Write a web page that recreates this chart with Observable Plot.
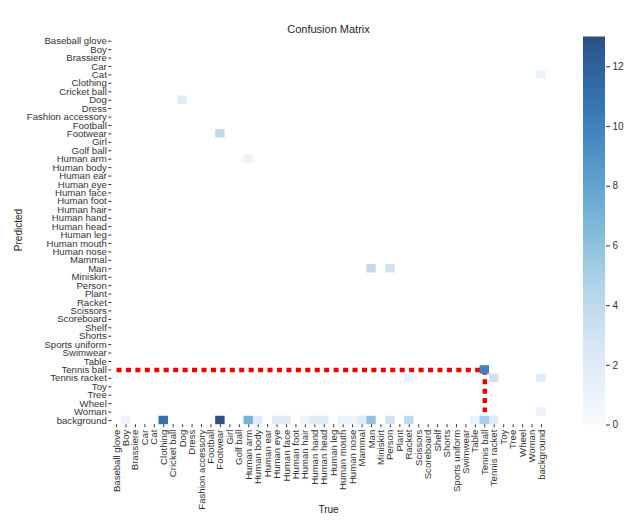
<!DOCTYPE html>
<html><head><meta charset="utf-8">
<script src="https://cdn.jsdelivr.net/npm/d3@7"></script>
<script src="https://cdn.jsdelivr.net/npm/@observablehq/plot@0.6"></script>
<style>
body{margin:0;background:#fff;}
#wrap{position:relative;width:635px;height:520px;font-family:"Liberation Sans",Arial,sans-serif;color:#262626;overflow:hidden;}
#main,#cbar{position:absolute;top:0;}
#main{left:0;}
#cbar{left:570px;}
.lbl{position:absolute;white-space:nowrap;transform:translate(-50%,-50%);}
</style></head><body>
<div id="wrap">
<div id="main"></div>
<div id="cbar"></div>
<div class="lbl" style="left:328.5px;top:29px;font-size:11px;">Confusion Matrix</div>
<div class="lbl" style="left:328.5px;top:509px;font-size:10px;">True</div>
<div class="lbl" style="left:18px;top:230px;font-size:10px;transform:translate(-50%,-50%) rotate(-90deg);">Predicted</div>
</div>
<script>
const labels = ["Baseball glove","Boy","Brassiere","Car","Cat","Clothing","Cricket ball","Dog","Dress","Fashion accessory","Football","Footwear","Girl","Golf ball","Human arm","Human body","Human ear","Human eye","Human face","Human foot","Human hair","Human hand","Human head","Human leg","Human mouth","Human nose","Mammal","Man","Miniskirt","Person","Plant","Racket","Scissors","Scoreboard","Shelf","Shorts","Sports uniform","Swimwear","Table","Tennis ball","Tennis racket","Toy","Tree","Wheel","Woman","background"];

// non-zero cells: predicted (row), true (column), count
const predicted = ["Cat","Dog","Footwear","Human arm","Man","Man","Tennis ball","Tennis racket","Tennis racket","Tennis racket","Woman",
  "background","background","background","background","background","background","background","background","background","background",
  "background","background","background","background","background","background","background","background","background"];
const actual = ["background","Dog","Footwear","Human arm","Man","Person","Tennis ball","Racket","Tennis racket","background","background",
  "Boy","Clothing","Footwear","Human arm","Human body","Human eye","Human face","Human hair","Human hand","Human head",
  "Human mouth","Human nose","Mammal","Man","Person","Racket","Table","Tennis ball","Tennis racket"];
const counts = [1,2,4,1,4,3,10,1,3,2,1,
  1,11,13,7,2,2,2,1,2,2,
  1,1,2,6,3,4,1,5,2];

// highlighted path (red dotted guide)
const pathTrue = ["Baseball glove","Tennis ball","Tennis ball"];
const pathPred = ["Tennis ball","Tennis ball","Woman"];

const colorMax = 13;
const cbarTicks = [0,2,4,6,8,10,12];

const nonzero = predicted.map((p,i)=>({p, a: actual[i], v: counts[i]}));
const path = pathTrue.map((a,i)=>({a, p: pathPred[i]}));

const blend = t => d3.interpolateRgb("#ffffff", d3.interpolateBlues(t))(0.85);
const font = '"Liberation Sans", Arial, sans-serif';

const main = Plot.plot({
  width: 635, height: 520,
  marginLeft: 111.3, marginRight: 89.3, marginTop: 36.5, marginBottom: 95.8,
  style: {fontFamily: font, fontSize: "9.6px", color: "#333", background: "transparent"},
  x: {domain: labels, type: "band", padding: 0, round: false, tickRotate: -90, tickSize: 3, tickPadding: 2, label: null},
  y: {domain: labels, type: "band", padding: 0, round: false, tickSize: 3, tickPadding: 2, label: null},
  color: {type: "linear", domain: [0, colorMax], interpolate: blend},
  marks: [
    Plot.line(path, {x: "a", y: "p", stroke: "#ee0000", strokeWidth: 4.5, strokeDasharray: "5,4.44", strokeLinecap: "butt", strokeLinejoin: "miter"}),
    Plot.cell(nonzero, {x: "a", y: "p", fill: "v", inset: 0})
  ]
});
document.getElementById("main").appendChild(main);

const step = 0.05;
const ramp = d3.range(0, colorMax, step);
const cbar = Plot.plot({
  width: 65, height: 520,
  marginLeft: 13, marginRight: 30, marginTop: 36.5, marginBottom: 95.5,
  style: {fontFamily: font, fontSize: "10px", color: "#333", background: "transparent"},
  x: {domain: [0, 1], axis: null},
  y: {domain: [0, colorMax], axis: "right", ticks: cbarTicks, tickSize: 4, tickPadding: 3, label: null},
  color: {type: "linear", domain: [0, colorMax], interpolate: blend},
  marks: [
    Plot.rect(ramp, {x1: () => 0, x2: () => 1, y1: d => d, y2: d => Math.min(colorMax, d + step * 1.5), fill: d => d + step / 2})
  ]
});
document.getElementById("cbar").appendChild(cbar);
</script>
</body></html>
